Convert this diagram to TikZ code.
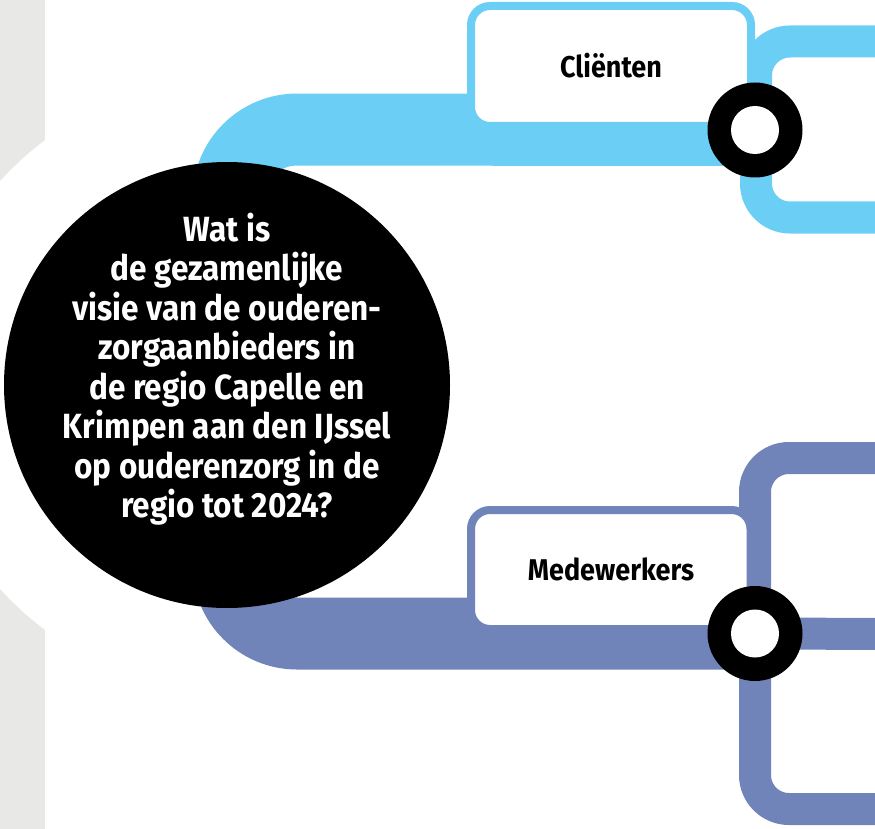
\documentclass[tikz,border=0pt]{standalone}
\usepackage{fontspec}
\setmainfont{Fira Sans}
\newfontfamily\condfont{Fira Sans}[FakeStretch=0.9]
\definecolor{cblue}{HTML}{6BCEF4}
\definecolor{cpurple}{HTML}{7184B9}
\definecolor{cgrey}{HTML}{E8E8E6}
\tikzset{
  band/.style={line width=72pt, rounded corners=68.5pt},
  bracket/.style={line width=32pt, rounded corners=34pt},
  labelbox/.style={line width=8pt, fill=white, rounded corners=19pt},
  labeltext/.style={font=\condfont\fontsize{30}{34}\selectfont\bfseries, text=black, inner sep=0pt},
  ringout/.style={circle, fill=black, minimum size=95pt, inner sep=0pt},
  ringin/.style={circle, fill=white, minimum size=48pt, inner sep=0pt}
}
\begin{document}
\begin{tikzpicture}[x=1pt,y=-1pt]
\useasboundingbox (0,0) rectangle (875,829);
% side panel with cut-out
\fill[cgrey] (0,0) rectangle (45,829);
\fill[white] (227,385) circle (305pt);
% bands from the central circle
\coordinate (q) at (227,385);
\coordinate (c1) at (755,130);
\coordinate (c2) at (755,633.5);
\draw[band, cblue] (c1) -- (228.5,129.5) -- (228.5,330);
\draw[band, cpurple] (c2) -- (228.5,633.5) -- (228.5,440);
% central question
\node[circle, fill=black, minimum size=446pt, inner sep=0pt] (question) at (q) {};
\node[align=center, text=white, inner sep=0pt,
      font=\condfont\fontsize{35}{39.5}\selectfont\bfseries] (qtext) at (227,369)
  {Wat is\\de gezamenlijke\\visie van de ouderen-\\zorgaanbieders in\\de regio Capelle en\\Krimpen aan den IJssel\\op ouderenzorg in de\\regio tot 2024?};
% brackets
\draw[bracket, cblue] (900,41.5) -- (756,41.5) -- (756,217.5) -- (900,217.5);
\draw[bracket, cpurple] (900,458) -- (755,458) -- (755,809) -- (900,809);
\draw[line width=32pt, cpurple] (c2) -- (900,634);
% label boxes
\draw[labelbox, draw=cblue] (471,6) rectangle (751,126);
\node[labeltext] (clienten) at (611,66) {Cliënten};
\draw[labelbox, draw=cpurple] (471,510) rectangle (750.5,629);
\node[labeltext] (medewerkers) at (611,569.5) {Medewerkers};
% rings
\node[ringout] (r1) at (c1) {};
\node[ringin] at (c1) {};
\node[ringout] (r2) at (c2) {};
\node[ringin] at (c2) {};
\end{tikzpicture}
\end{document}
